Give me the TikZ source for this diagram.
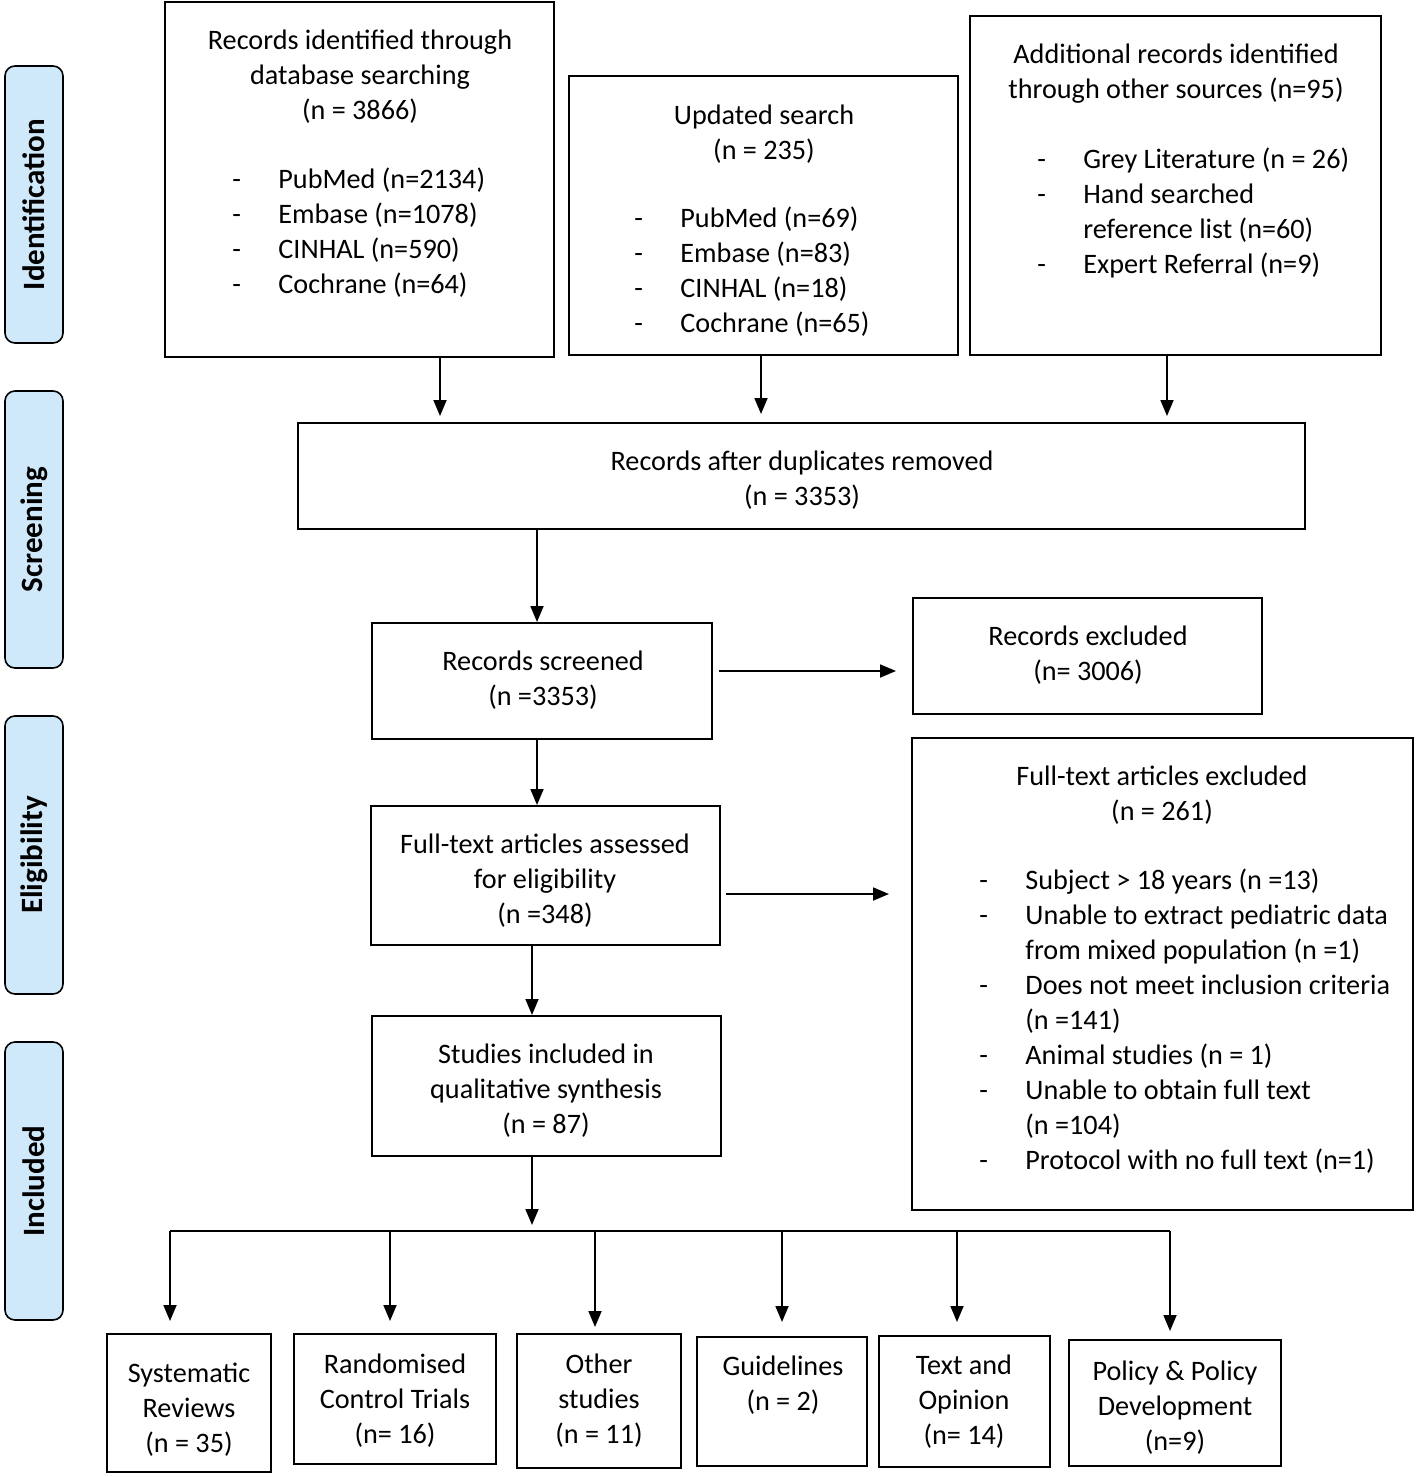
\documentclass[tikz,border=0pt]{standalone}
\usepackage{fontspec}
\setmainfont{Carlito}
\usetikzlibrary{arrows.meta,fit,calc}
\definecolor{sideblue}{RGB}{207,233,251}
\newcommand\ditem[1]{\makebox[23pt][l]{-}#1}
\newcommand\citem[1]{\hspace*{23pt}#1}
\begin{document}
\begin{tikzpicture}[x=0.5pt,y=-0.5pt,
  box/.style={draw, line width=1pt, inner sep=0pt},
  side/.style={draw, line width=0.8pt, rounded corners=5pt, fill=sideblue, inner sep=0pt},
  txt/.style={align=center, inner sep=0pt, yshift=-1pt, font=\fontsize{14.1}{17.5}\selectfont},
  ltxt/.style={align=left, inner sep=0pt, anchor=west, yshift=-1pt, font=\fontsize{14.1}{17.5}\selectfont},
  stxt/.style={rotate=90, inner sep=0pt, font=\fontsize{15.5}{18}\selectfont\bfseries},
  arr/.style={-{Triangle[length=8pt,width=6.5pt]}, line width=0.9pt},
  ln/.style={line width=0.9pt}]
\useasboundingbox (0,0) rectangle (1416,1477);

% side labels
\node[side, fit={(5,66) (63,343)}] (s1) {};
\node[stxt] (s1t) at (s1) {Identification};
\node[side, fit={(5,391) (63,668)}] (s2) {};
\node[stxt] (s2t) at (s2) {Screening};
\node[side, fit={(5,716) (63,994)}] (s3) {};
\node[stxt] (s3t) at (s3) {Eligibility};
\node[side, fit={(5,1042) (63,1320)}] (s4) {};
\node[stxt] (s4t) at (s4) {Included};

% top boxes
\node[box, fit={(165,2) (554,357)}] (A) {};
\node[txt] (At) at (360,75) {Records identified through\\database searching\\(n = 3866)};
\node[ltxt] (Al) at (232,231) {\ditem{PubMed (n=2134)}\\\ditem{Embase (n=1078)}\\\ditem{CINHAL (n=590)}\\\ditem{Cochrane (n=64)}};

\node[box, fit={(569,76) (958,355)}] (B) {};
\node[txt] (Bt) at (764,132) {Updated search\\(n = 235)};
\node[ltxt] (Bl) at (634,270) {\ditem{PubMed (n=69)}\\\ditem{Embase (n=83)}\\\ditem{CINHAL (n=18)}\\\ditem{Cochrane (n=65)}};

\node[box, fit={(970,16) (1381,355)}] (C) {};
\node[txt] (Ct) at (1176,71.5) {Additional records identified\\through other sources (n=95)};
\node[ltxt] (Cl) at (1037,210.5) {\ditem{Grey Literature (n = 26)}\\\ditem{Hand searched}\\\citem{reference list (n=60)}\\\ditem{Expert Referral (n=9)}};

% screening
\node[box, fit={(298,423) (1305,529)}] (D) {};
\node[txt] (Dt) at (802,478.5) {Records after duplicates removed\\(n = 3353)};
\node[box, fit={(372,623) (712,739)}] (E) {};
\node[txt] (Et) at (543,678.5) {Records screened\\(n =3353)};
\node[box, fit={(913,598) (1262,714)}] (F) {};
\node[txt] (Ft) at (1088,653.5) {Records excluded\\(n= 3006)};

% eligibility
\node[box, fit={(371,806) (720,945)}] (G) {};
\node[txt] (Gt) at (545,879) {Full-text articles assessed\\for eligibility\\(n =348)};
\node[box, fit={(912,738) (1413,1210)}] (H) {};
\node[txt] (Ht) at (1162,793.5) {Full-text articles excluded\\(n = 261)};
\node[ltxt] (Hl) at (979,1019) {\ditem{Subject > 18 years (n =13)}\\\ditem{Unable to extract pediatric data}\\\citem{from mixed population (n =1)}\\\ditem{Does not meet inclusion criteria}\\\citem{(n =141)}\\\ditem{Animal studies (n = 1)}\\\ditem{Unable to obtain full text}\\\citem{(n =104)}\\\ditem{Protocol with no full text (n=1)}};

% included
\node[box, fit={(372,1016) (721,1156)}] (I) {};
\node[txt] (It) at (546,1089) {Studies included in\\qualitative synthesis\\(n = 87)};

\node[box, fit={(107,1334) (271,1472)}] (K1) {};
\node[txt] (K1t) at (189,1407.5) {Systematic\\Reviews\\(n = 35)};
\node[box, fit={(294,1334) (496,1464)}] (K2) {};
\node[txt] (K2t) at (395,1399) {Randomised\\Control Trials\\(n= 16)};
\node[box, fit={(517,1334) (681,1468)}] (K3) {};
\node[txt] (K3t) at (599,1399) {Other\\studies\\(n = 11)};
\node[box, fit={(697,1337) (867,1466)}] (K4) {};
\node[txt] (K4t) at (783,1383.5) {Guidelines\\(n = 2)};
\node[box, fit={(879,1336) (1050,1467)}] (K5) {};
\node[txt] (K5t) at (964,1400) {Text and\\Opinion\\(n= 14)};
\node[box, fit={(1069,1340) (1281,1466)}] (K6) {};
\node[txt] (K6t) at (1175,1406) {Policy \& Policy\\Development\\(n=9)};

% connectors
\draw[arr, shorten >=3pt] (440,0 |- A.south) -- (440,0 |- D.north);
\draw[arr, shorten >=4pt] (761,0 |- B.south) -- (761,0 |- D.north);
\draw[arr, shorten >=3pt] (1167,0 |- C.south) -- (1167,0 |- D.north);
\draw[arr] (537,0 |- D.south) -- (537,0 |- E.north);
\coordinate (ef) at (0,671);
\draw[arr] ($(E.east |- ef)+(6,0)$) -- ($(F.west |- ef)+(-16,0)$);
\draw[arr] (537,0 |- E.south) -- (537,0 |- G.north);
\coordinate (gh) at (0,894);
\draw[arr] ($(G.east |- gh)+(5,0)$) -- ($(H.west |- gh)+(-22,0)$);
\draw[arr] (532,0 |- G.south) -- (532,0 |- I.north);
\coordinate (busL) at (170,1231);
\coordinate (busR) at (1170,1231);
\draw[ln] (busL) -- (busR);
\draw[arr, shorten >=3pt] (532,0 |- I.south) -- (532,0 |- busL);
\draw[arr, shorten >=6pt] (busL) -- (busL |- K1.north);
\draw[arr, shorten >=6pt] (390,0 |- busL) -- (390,0 |- K2.north);
\draw[arr, shorten >=3pt] (595,0 |- busL) -- (595,0 |- K3.north);
\draw[arr, shorten >=7pt] (782,0 |- busL) -- (782,0 |- K4.north);
\draw[arr, shorten >=6.5pt] (957,0 |- busL) -- (957,0 |- K5.north);
\draw[arr, shorten >=4pt] (busR) -- (busR |- K6.north);
\end{tikzpicture}
\end{document}
